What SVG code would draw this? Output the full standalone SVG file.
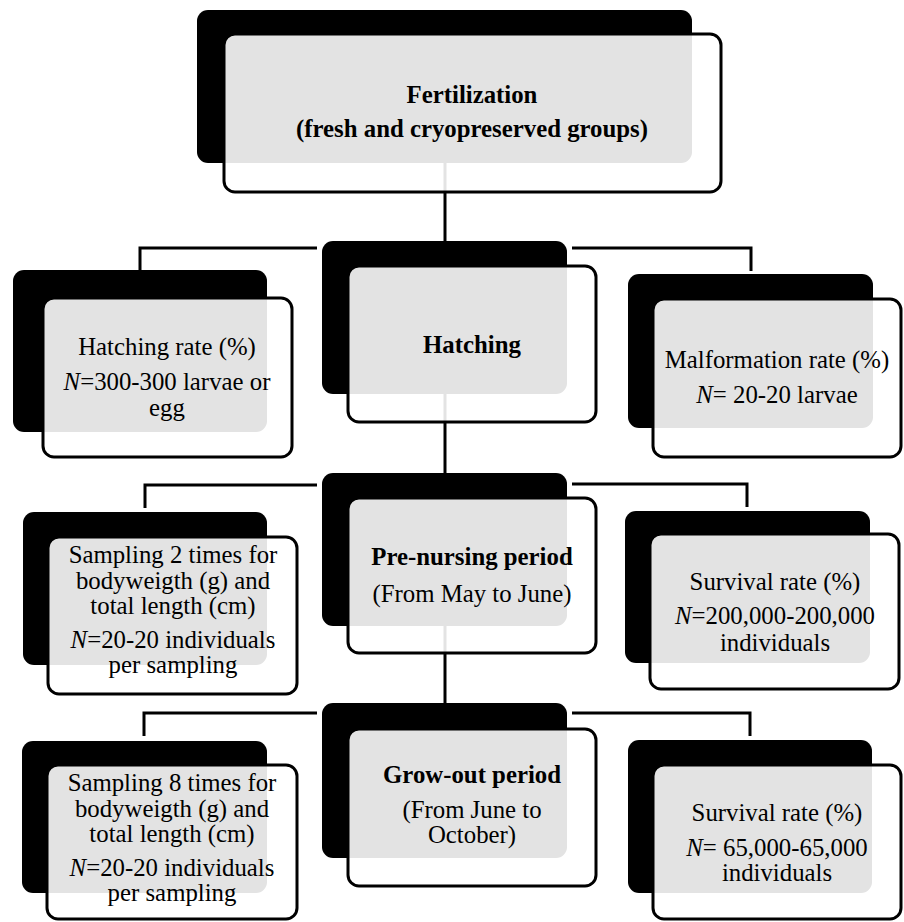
<svg xmlns="http://www.w3.org/2000/svg" width="904" height="922" viewBox="0 0 904 922">
<style>
  .shadow { fill: #000; }
  .box { fill: #fff; fill-opacity: 0.89; stroke: #000; stroke-width: 3; }
  .conn { fill: none; stroke: #000; stroke-width: 3; }
  text { font-family: "Liberation Serif", "Times New Roman", serif; font-size: 24.8px; fill: #000; text-anchor: middle; }
  .b { font-weight: bold; }
  .i { font-style: italic; }
</style>
<rect width="904" height="922" fill="#fff"/>
<g id="connectors">
  <line class="conn" x1="445" y1="163" x2="445" y2="242"/>
  <polyline class="conn" points="317,248 140,248 140,270"/>
  <polyline class="conn" points="572,248 751,248 751,271"/>
  <line class="conn" x1="445" y1="394" x2="445" y2="474"/>
  <polyline class="conn" points="317,485 145,485 145,508"/>
  <polyline class="conn" points="572,484 747,484 747,507"/>
  <line class="conn" x1="445" y1="626" x2="445" y2="704"/>
  <polyline class="conn" points="317,713 144,713 144,736"/>
  <polyline class="conn" points="572,713 750,713 750,736"/>
</g>
<g id="fertilization" font-family="Liberation Serif, serif">
  <rect class="shadow" x="197" y="10" width="495" height="153" rx="11"/>
  <rect class="box" x="224" y="34" width="497" height="158" rx="11"/>
  <text class="b" x="472" y="103">Fertilization</text>
  <text class="b" x="472" y="137">(fresh and cryopreserved groups)</text>
</g>
<g id="hatching-rate">
  <rect class="shadow" x="13" y="270" width="254" height="162" rx="11"/>
  <rect class="box" x="43" y="298" width="249" height="159" rx="11"/>
  <text x="167" y="355">Hatching rate (%)</text>
  <text x="167" y="390"><tspan class="i">N</tspan>=300-300 larvae or</text>
  <text x="167" y="416">egg</text>
</g>
<g id="hatching">
  <rect class="shadow" x="322" y="241" width="245" height="153" rx="11"/>
  <rect class="box" x="348" y="266" width="248" height="156" rx="11"/>
  <text class="b" x="472" y="353">Hatching</text>
</g>
<g id="malformation">
  <rect class="shadow" x="628" y="274" width="245" height="154" rx="11"/>
  <rect class="box" x="653" y="299" width="248" height="158" rx="11"/>
  <text x="777" y="368">Malformation rate (%)</text>
  <text x="777" y="403"><tspan class="i">N</tspan>= 20-20 larvae</text>
</g>
<g id="sampling-2">
  <rect class="shadow" x="23" y="512" width="244" height="153" rx="11"/>
  <rect class="box" x="48" y="537" width="249" height="157" rx="11"/>
  <text x="173" y="563">Sampling 2 times for</text>
  <text x="173" y="589">bodyweigth (g) and</text>
  <text x="173" y="614">total length (cm)</text>
  <text x="173" y="648"><tspan class="i">N</tspan>=20-20 individuals</text>
  <text x="173" y="673">per sampling</text>
</g>
<g id="pre-nursing">
  <rect class="shadow" x="322" y="473" width="245" height="153" rx="11"/>
  <rect class="box" x="348" y="498" width="248" height="155" rx="11"/>
  <text class="b" x="472" y="565">Pre-nursing period</text>
  <text x="472" y="602">(From May to June)</text>
</g>
<g id="survival-1">
  <rect class="shadow" x="625" y="511" width="245" height="152" rx="11"/>
  <rect class="box" x="650" y="534" width="249" height="155" rx="11"/>
  <text x="775" y="590">Survival rate (%)</text>
  <text x="775" y="624"><tspan class="i">N</tspan>=200,000-200,000</text>
  <text x="775" y="651">individuals</text>
</g>
<g id="sampling-8">
  <rect class="shadow" x="22" y="741" width="245" height="152" rx="11"/>
  <rect class="box" x="47" y="765" width="250" height="154" rx="11"/>
  <text x="172" y="791">Sampling 8 times for</text>
  <text x="172" y="817">bodyweigth (g) and</text>
  <text x="172" y="842">total length (cm)</text>
  <text x="172" y="876"><tspan class="i">N</tspan>=20-20 individuals</text>
  <text x="172" y="901">per sampling</text>
</g>
<g id="grow-out">
  <rect class="shadow" x="322" y="703" width="245" height="155" rx="11"/>
  <rect class="box" x="348" y="729" width="248" height="157" rx="11"/>
  <text class="b" x="472" y="783">Grow-out period</text>
  <text x="472" y="818">(From June to</text>
  <text x="472" y="843">October)</text>
</g>
<g id="survival-2">
  <rect class="shadow" x="628" y="740" width="244" height="153" rx="11"/>
  <rect class="box" x="653" y="765" width="248" height="154" rx="11"/>
  <text x="777" y="821">Survival rate (%)</text>
  <text x="777" y="856"><tspan class="i">N</tspan>= 65,000-65,000</text>
  <text x="777" y="881">individuals</text>
</g>
</svg>
